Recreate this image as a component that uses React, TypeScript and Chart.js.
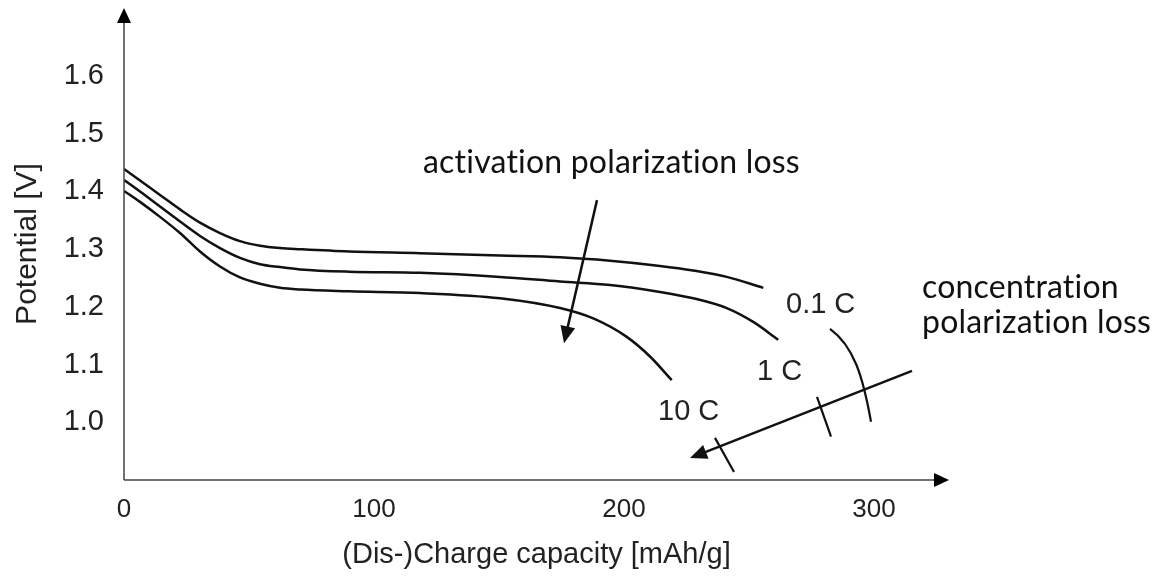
import React, { useEffect, useRef } from 'react';
import { Chart, registerables } from 'chart.js';

Chart.register(...registerables);

// ---- data ----
const capacity01C = [0, 6.4, 14.4, 22.4, 30.4, 38.4, 46.4, 54.4, 62.4, 70.4, 90, 118.4, 150.4, 174.4, 194.4, 214.4, 227.7, 241.1, 255.7];
const potential01C = [1.439, 1.419, 1.394, 1.369, 1.346, 1.328, 1.314, 1.306, 1.302, 1.3, 1.296, 1.293, 1.289, 1.286, 1.28, 1.271, 1.263, 1.252, 1.233];

const capacity1C = [0, 6.4, 14.4, 22.4, 30.4, 38.4, 46.4, 54.4, 62.4, 70.4, 90, 118.4, 150.4, 174.4, 194.4, 214.4, 227.7, 241.1, 251.7, 261.7];
const potential1C = [1.42, 1.4, 1.374, 1.348, 1.323, 1.302, 1.285, 1.274, 1.269, 1.265, 1.261, 1.259, 1.252, 1.244, 1.238, 1.226, 1.215, 1.198, 1.174, 1.143];

const capacity10C = [0, 6.4, 14.4, 22.4, 30.4, 38.4, 46.4, 54.4, 62.4, 70.4, 90, 118.4, 150.4, 174.4, 187.7, 201.1, 210.4, 219.1];
const potential10C = [1.401, 1.382, 1.356, 1.328, 1.296, 1.27, 1.251, 1.24, 1.233, 1.23, 1.227, 1.224, 1.215, 1.198, 1.18, 1.148, 1.114, 1.073];

const seriesLabels = ['0.1 C', '1 C', '10 C'];
const xTicks = [0, 100, 200, 300];
const yTicks = [1.0, 1.1, 1.2, 1.3, 1.4, 1.5, 1.6];
const xTitle = '(Dis-)Charge capacity [mAh/g]';
const yTitle = 'Potential [V]';
const activationText = 'activation polarization loss';
const concentrationText = ['concentration', 'polarization loss'];

const X_MIN = 0;
const X_MAX = 330;
const Y_MIN = 0.9;
const Y_MAX = 1.718;

const INK = '#111111';
const AXIS = '#444444';
const SANS = '"Liberation Sans", Arial, sans-serif';
const LATO = 'Lato, "Noto Sans", sans-serif';

type P = [number, number];

function drawArrow(ctx: CanvasRenderingContext2D, a: P, b: P, head = 17, half = 7.5) {
  const dx = b[0] - a[0];
  const dy = b[1] - a[1];
  const len = Math.hypot(dx, dy);
  const ux = dx / len;
  const uy = dy / len;
  const bx = b[0] - ux * head;
  const by = b[1] - uy * head;
  ctx.beginPath();
  ctx.moveTo(a[0], a[1]);
  ctx.lineTo(bx + ux * 2, by + uy * 2);
  ctx.stroke();
  ctx.beginPath();
  ctx.moveTo(b[0], b[1]);
  ctx.lineTo(bx - uy * half, by + ux * half);
  ctx.lineTo(bx + uy * half, by - ux * half);
  ctx.closePath();
  ctx.fill();
}

const annotationPlugin = {
  id: 'annotations',
  afterDraw(chart: any) {
    const { ctx, chartArea, scales } = chart;
    const xs = scales.x;
    const ys = scales.y;
    const px = (x: number, y: number): P => [xs.getPixelForValue(x), ys.getPixelForValue(y)];
    ctx.save();

    // axes with arrow heads
    ctx.strokeStyle = AXIS;
    ctx.fillStyle = '#000';
    ctx.lineWidth = 1.5;
    const left = chartArea.left;
    const bottom = chartArea.bottom;
    ctx.beginPath();
    ctx.moveTo(left, bottom);
    ctx.lineTo(left, chartArea.top + 10);
    ctx.moveTo(left, bottom);
    ctx.lineTo(chartArea.right - 10, bottom);
    ctx.stroke();
    ctx.beginPath();
    ctx.moveTo(left, chartArea.top);
    ctx.lineTo(left - 7, chartArea.top + 15);
    ctx.lineTo(left + 7, chartArea.top + 15);
    ctx.closePath();
    ctx.fill();
    ctx.beginPath();
    ctx.moveTo(chartArea.right, bottom);
    ctx.lineTo(chartArea.right - 15, bottom - 7);
    ctx.lineTo(chartArea.right - 15, bottom + 7);
    ctx.closePath();
    ctx.fill();

    // activation arrow
    ctx.strokeStyle = INK;
    ctx.fillStyle = INK;
    ctx.lineWidth = 2.5;
    drawArrow(ctx, px(189.2, 1.385), px(176, 1.137));

    // concentration arrow
    drawArrow(ctx, px(315.2, 1.089), px(226.4, 0.938));

    // limit marks
    ctx.lineWidth = 2.2;
    const arc: P[] = [px(282.4, 1.162), px(291.2, 1.125), px(295.6, 1.068), px(298.8, 1.001)];
    ctx.beginPath();
    ctx.moveTo(arc[0][0], arc[0][1]);
    ctx.bezierCurveTo(arc[1][0] + 2, arc[1][1] - 4, arc[2][0], arc[2][1] - 6, arc[3][0], arc[3][1]);
    ctx.stroke();
    const t1a = px(277.2, 1.044);
    const t1b = px(282.8, 0.975);
    const t2a = px(236.4, 0.973);
    const t2b = px(244, 0.914);
    ctx.beginPath();
    ctx.moveTo(t1a[0], t1a[1]);
    ctx.lineTo(t1b[0], t1b[1]);
    ctx.moveTo(t2a[0], t2a[1]);
    ctx.lineTo(t2b[0], t2b[1]);
    ctx.stroke();

    // series labels
    ctx.fillStyle = '#222';
    ctx.textBaseline = 'alphabetic';
    ctx.textAlign = 'left';
    ctx.font = `29px ${SANS}`;
    const l1 = px(264.8, 1.189);
    const l2 = px(253.2, 1.073);
    const l3 = px(213.6, 1.004);
    ctx.fillText(seriesLabels[0], l1[0], l1[1]);
    ctx.fillText(seriesLabels[1], l2[0], l2[1]);
    ctx.fillText(seriesLabels[2], l3[0], l3[1]);

    // annotation texts
    ctx.fillStyle = '#111';
    ctx.font = `32px ${LATO}`;
    try {
      (ctx as any).letterSpacing = '0.2px';
    } catch (e) {
      /* ignore */
    }
    const a1 = px(119.6, 1.432);
    ctx.fillText(activationText, a1[0], a1[1]);
    const c1 = px(319.2, 1.2154);
    const c2 = px(319.2, 1.1548);
    ctx.fillText(concentrationText[0], c1[0], c1[1]);
    ctx.fillText(concentrationText[1], c2[0], c2[1]);
    try {
      (ctx as any).letterSpacing = '0px';
    } catch (e) {
      /* ignore */
    }

    ctx.restore();
  },
};

export default function App() {
  const canvasRef = useRef<HTMLCanvasElement | null>(null);

  useEffect(() => {
    const canvas = canvasRef.current;
    if (!canvas) return;
    const mk = (xs: number[], ys: number[]) => xs.map((x, i) => ({ x, y: ys[i] }));
    const lineStyle = {
      borderColor: INK,
      borderWidth: 2.5,
      pointRadius: 0,
      fill: false,
      cubicInterpolationMode: 'monotone' as const,
    };
    const chart = new Chart(canvas, {
      type: 'line',
      data: {
        datasets: [
          { label: seriesLabels[0], data: mk(capacity01C, potential01C), ...lineStyle },
          { label: seriesLabels[1], data: mk(capacity1C, potential1C), ...lineStyle },
          { label: seriesLabels[2], data: mk(capacity10C, potential10C), ...lineStyle },
        ],
      },
      options: {
        animation: false,
        responsive: false,
        events: [],
        layout: { padding: { left: 0, top: 8, right: 209, bottom: 0 } },
        plugins: { legend: { display: false }, tooltip: { enabled: false }, title: { display: false } },
        scales: {
          x: {
            type: 'linear',
            min: X_MIN,
            max: X_MAX,
            grid: { display: false, drawTicks: false },
            border: { display: false },
            afterBuildTicks: (s: any) => {
              s.ticks = xTicks.map((v) => ({ value: v }));
            },
            afterFit: (s: any) => {
              s.height = 97;
              s.paddingLeft = 0;
              s.paddingRight = 0;
            },
            ticks: {
              color: '#222',
              padding: 14,
              maxRotation: 0,
              autoSkip: false,
              font: { family: SANS, size: 26 },
              callback: (v: any) => String(v),
            },
            title: {
              display: true,
              text: xTitle,
              color: '#222',
              font: { family: SANS, size: 29 },
              padding: { top: 0, bottom: 5 },
            },
          },
          y: {
            type: 'linear',
            min: Y_MIN,
            max: Y_MAX,
            grid: { display: false, drawTicks: false },
            border: { display: false },
            afterBuildTicks: (s: any) => {
              s.ticks = yTicks.map((v) => ({ value: v }));
            },
            afterFit: (s: any) => {
              s.width = 124;
              s.paddingTop = 0;
              s.paddingBottom = 0;
            },
            ticks: {
              color: '#222',
              padding: 20,
              autoSkip: false,
              font: { family: SANS, size: 29 },
              callback: (v: any) => Number(v).toFixed(1),
            },
            title: {
              display: true,
              text: yTitle,
              color: '#222',
              font: { family: SANS, size: 30 },
              padding: { top: 10, bottom: 0 },
            },
          },
        },
      },
      plugins: [annotationPlugin],
    });
    return () => chart.destroy();
  }, []);

  return (
    <div style={{ position: 'fixed', left: 0, top: 0, width: 1158, height: 577, background: '#fff' }}>
      <canvas ref={canvasRef} width={1158} height={577} style={{ display: 'block' }} />
    </div>
  );
}
